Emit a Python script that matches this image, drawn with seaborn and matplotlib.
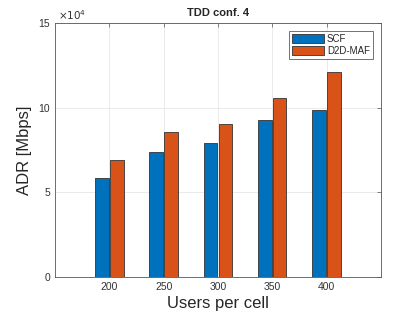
import matplotlib
matplotlib.use('Agg')
import matplotlib.pyplot as plt
import pandas as pd
import seaborn as sns

users = ['200', '250', '300', '350', '400']
scf = [58500, 73800, 79000, 92700, 98600]
d2d_maf = [69000, 85600, 90400, 105700, 121000]
series_names = ['SCF', 'D2D-MAF']
y_ticks = [0, 50000, 100000, 150000]
y_tick_labels = ['0', '5', '10', '15']

df = pd.DataFrame({
    'Users per cell': users * 2,
    'ADR': scf + d2d_maf,
    'Scheme': [series_names[0]] * len(users) + [series_names[1]] * len(users),
})

sns.set_style('white')
plt.rcParams['font.family'] = ['Liberation Sans', 'DejaVu Sans']

fig = plt.figure(figsize=(4.2, 3.15), dpi=100)
ax = fig.add_axes([0.131, 0.121, 0.776, 0.806])

sns.barplot(data=df, x='Users per cell', y='ADR', hue='Scheme',
            palette=['#0072BD', '#D95319'], saturation=1, width=0.55, gap=0.1,
            edgecolor='#333333', linewidth=0.6, ax=ax)

ax.set_xlim(-1, 5)
ax.set_ylim(0, 150000)
ax.set_yticks(y_ticks)
ax.set_yticklabels(y_tick_labels)
ax.grid(True, color='#e6e6e6', linewidth=0.6)
ax.set_axisbelow(True)
for s in ax.spines.values():
    s.set_color('#555555')
    s.set_linewidth(0.6)
ax.tick_params(direction='in', length=3, width=0.5, color='#555555',
               labelsize=7.5, labelcolor='#333333', top=True, right=True)
ax.set_xlabel('Users per cell', fontsize=12, color='#262626', labelpad=3)
ax.set_ylabel('ADR [Mbps]', fontsize=12, color='#262626', labelpad=5)
ax.set_title('TDD conf. 4', fontsize=8, fontweight='bold', pad=5)
ax.text(0.01, 1.003, r'$\times10^4$', transform=ax.transAxes, fontsize=7.5,
        color='#333333', ha='left', va='bottom')

leg = ax.legend(loc='upper right', bbox_to_anchor=(0.975, 0.97), fontsize=7,
                frameon=True, fancybox=False, edgecolor='#333333',
                handlelength=3.3, handleheight=1.1, borderpad=0.3,
                labelspacing=0.25, handletextpad=0.3, borderaxespad=0)
leg.get_frame().set_linewidth(0.6)

fig.savefig('out.png', dpi=100)
